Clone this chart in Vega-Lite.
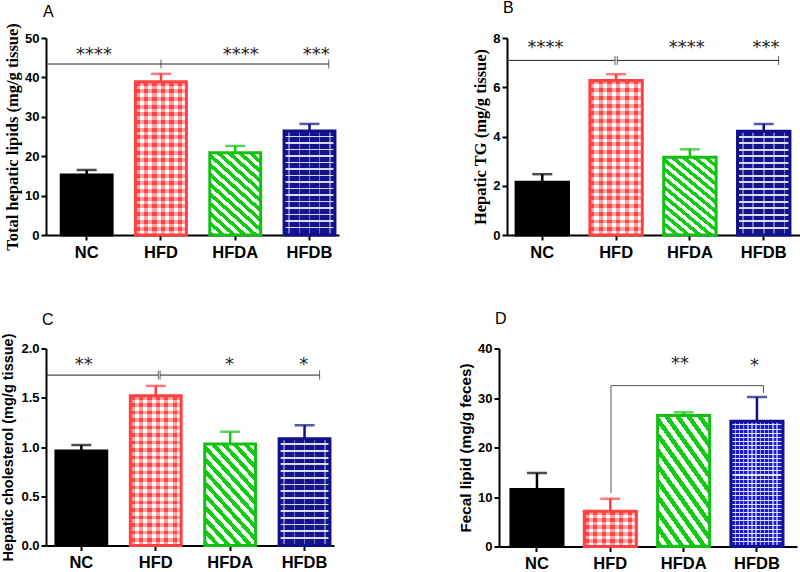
{
  "$schema": "https://vega.github.io/schema/vega-lite/v6.json",
  "padding": {"left": 0, "top": 0, "right": 0, "bottom": 0},
  "background": "white",
  "config": {
    "view": {"stroke": null},
    "axis": {"domainColor": "black", "domainWidth": 2, "tickColor": "black", "tickWidth": 2, "tickSize": 5, "labelFont": "Liberation Sans", "labelFontWeight": "bold", "labelColor": "black", "grid": false, "titleColor": "black", "titleFontWeight": "bold"},
    "axisY": {"labelFontSize": 13, "labelPadding": 2, "titlePadding": 4},
    "axisX": {"labelFontSize": 16.5, "labelPadding": 4, "labelAngle": 0},
    "title": {"font": "Liberation Sans", "fontSize": 16, "fontWeight": "normal", "anchor": "start", "frame": "group", "color": "black"}
  },
  "datasets": {
    "barsA": [{"group": "NC", "value": 15.2, "upper": 16.5}, {"group": "HFD", "value": 38.9, "upper": 40.9}, {"group": "HFDA", "value": 20.9, "upper": 22.6}, {"group": "HFDB", "value": 26.4, "upper": 28.2}],
    "segA": [{"x1": 0, "x2": 1.57, "y1": 43.4, "y2": 43.4}, {"x1": 1.57, "x2": 3.86, "y1": 43.4, "y2": 43.4}],
    "tickA": [{"x": 1.57, "y": 43.4}, {"x": 3.86, "y": 43.4}],
    "starsA": [{"x": 0.655, "y": 45.8, "label": "****"}, {"x": 2.66, "y": 45.8, "label": "****"}, {"x": 3.69, "y": 45.8, "label": "***"}],
    "barsB": [{"group": "NC", "value": 2.14, "upper": 2.47}, {"group": "HFD", "value": 6.27, "upper": 6.53}, {"group": "HFDA", "value": 3.16, "upper": 3.48}, {"group": "HFDB", "value": 4.21, "upper": 4.51}],
    "segB": [{"x1": 0, "x2": 1.46, "y1": 7.09, "y2": 7.09}, {"x1": 1.49, "x2": 3.67, "y1": 7.09, "y2": 7.09}],
    "tickB": [{"x": 1.46, "y": 7.09}, {"x": 1.49, "y": 7.09}, {"x": 3.67, "y": 7.09}],
    "starsB": [{"x": 0.52, "y": 7.59, "label": "****"}, {"x": 2.43, "y": 7.59, "label": "****"}, {"x": 3.5, "y": 7.59, "label": "***"}],
    "barsC": [{"group": "NC", "value": 0.96, "upper": 1.02}, {"group": "HFD", "value": 1.52, "upper": 1.62}, {"group": "HFDA", "value": 1.03, "upper": 1.155}, {"group": "HFDB", "value": 1.085, "upper": 1.22}],
    "segC": [{"x1": 0, "x2": 1.56, "y1": 1.73, "y2": 1.73}, {"x1": 1.585, "x2": 3.8, "y1": 1.73, "y2": 1.73}],
    "tickC": [{"x": 1.56, "y": 1.73}, {"x": 1.585, "y": 1.73}, {"x": 3.8, "y": 1.73}],
    "starsC": [{"x": 0.525, "y": 1.83, "label": "**"}, {"x": 2.55, "y": 1.83, "label": "*"}, {"x": 3.58, "y": 1.83, "label": "*"}],
    "barsD": [{"group": "NC", "value": 11.5, "upper": 14.85}, {"group": "HFD", "value": 7.1, "upper": 9.65}, {"group": "HFDA", "value": 26.45, "upper": 27.1}, {"group": "HFDB", "value": 25.3, "upper": 30.2}],
    "segD": [{"x1": 1.503, "x2": 1.503, "y1": 10.8, "y2": 32.5}, {"x1": 1.503, "x2": 3.55, "y1": 32.5, "y2": 32.5}, {"x1": 3.55, "x2": 3.55, "y1": 32.5, "y2": 31.0}],
    "starsD": [{"x": 2.43, "y": 36.8, "label": "**"}, {"x": 3.43, "y": 36.4, "label": "*"}]
  },
  "vconcat": [
    {
      "hconcat": [
        {
          "title": {"text": "A", "offset": 2.5, "dx": -3},
          "width": 293, "height": 197,
          "resolve": {"scale": {"x": "independent"}},
          "layer": [
            {"data": {"name": "barsA"},
             "encoding": {"x": {"field": "group", "type": "nominal", "sort": ["NC", "HFD", "HFDA", "HFDB"], "scale": {"paddingInner": 0.315, "paddingOuter": 0.13, "align": 0.79}, "axis": {"title": null}},
                          "y": {"field": "value", "type": "quantitative", "scale": {"domain": [0, 50], "nice": false}, "title": "Total hepatic lipids (mg/g tissue)", "axis": {"values": [0, 10, 20, 30, 40, 50], "titleFont": "Liberation Serif", "titleFontSize": 16.5}}},
             "layer": [
              {"mark": {"type": "rule", "strokeWidth": 2.5}, "encoding": {"y2": {"field": "upper"}, "color": {"field": "group", "type": "nominal", "scale": {"domain": ["NC", "HFD", "HFDA", "HFDB"], "range": ["#000000", "#ff4040", "#14c014", "#10108c"]}, "legend": null}}},
              {"mark": {"type": "tick", "thickness": 2.5, "size": 20}, "encoding": {"y": {"field": "upper", "type": "quantitative", "title": "Total hepatic lipids (mg/g tissue)", "axis": {"values": [0, 10, 20, 30, 40, 50], "titleFont": "Liberation Serif", "titleFontSize": 16.5}}, "color": {"field": "group", "type": "nominal", "legend": null}}},
              {"mark": {"type": "bar"}, "encoding": {"fill": {"field": "group", "type": "nominal", "scale": {"domain": ["NC", "HFD", "HFDA", "HFDB"], "range": ["#000000", "#ffa6a6", "#88e088", "#5a5aa8"]}, "legend": null}}},
              {"transform": [{"filter": "datum.group == 'HFD'"}], "mark": {"type": "bar", "fill": {"gradient": "linear", "x1": 0, "y1": 0, "x2": 0, "y2": 1, "stops": [
                {"offset":0,"color":"#f44"},{"offset":0.025,"color":"#f44"},{"offset":0.025,"color":"#fff"},{"offset":0.05,"color":"#fff"},
                {"offset":0.05,"color":"#f44"},{"offset":0.075,"color":"#f44"},{"offset":0.075,"color":"#fff"},{"offset":0.1,"color":"#fff"},
                {"offset":0.1,"color":"#f44"},{"offset":0.125,"color":"#f44"},{"offset":0.125,"color":"#fff"},{"offset":0.15,"color":"#fff"},
                {"offset":0.15,"color":"#f44"},{"offset":0.175,"color":"#f44"},{"offset":0.175,"color":"#fff"},{"offset":0.2,"color":"#fff"},
                {"offset":0.2,"color":"#f44"},{"offset":0.225,"color":"#f44"},{"offset":0.225,"color":"#fff"},{"offset":0.25,"color":"#fff"},
                {"offset":0.25,"color":"#f44"},{"offset":0.275,"color":"#f44"},{"offset":0.275,"color":"#fff"},{"offset":0.3,"color":"#fff"},
                {"offset":0.3,"color":"#f44"},{"offset":0.325,"color":"#f44"},{"offset":0.325,"color":"#fff"},{"offset":0.35,"color":"#fff"},
                {"offset":0.35,"color":"#f44"},{"offset":0.375,"color":"#f44"},{"offset":0.375,"color":"#fff"},{"offset":0.4,"color":"#fff"},
                {"offset":0.4,"color":"#f44"},{"offset":0.425,"color":"#f44"},{"offset":0.425,"color":"#fff"},{"offset":0.45,"color":"#fff"},
                {"offset":0.45,"color":"#f44"},{"offset":0.475,"color":"#f44"},{"offset":0.475,"color":"#fff"},{"offset":0.5,"color":"#fff"},
                {"offset":0.5,"color":"#f44"},{"offset":0.525,"color":"#f44"},{"offset":0.525,"color":"#fff"},{"offset":0.55,"color":"#fff"},
                {"offset":0.55,"color":"#f44"},{"offset":0.575,"color":"#f44"},{"offset":0.575,"color":"#fff"},{"offset":0.6,"color":"#fff"},
                {"offset":0.6,"color":"#f44"},{"offset":0.625,"color":"#f44"},{"offset":0.625,"color":"#fff"},{"offset":0.65,"color":"#fff"},
                {"offset":0.65,"color":"#f44"},{"offset":0.675,"color":"#f44"},{"offset":0.675,"color":"#fff"},{"offset":0.7,"color":"#fff"},
                {"offset":0.7,"color":"#f44"},{"offset":0.725,"color":"#f44"},{"offset":0.725,"color":"#fff"},{"offset":0.75,"color":"#fff"},
                {"offset":0.75,"color":"#f44"},{"offset":0.775,"color":"#f44"},{"offset":0.775,"color":"#fff"},{"offset":0.8,"color":"#fff"},
                {"offset":0.8,"color":"#f44"},{"offset":0.825,"color":"#f44"},{"offset":0.825,"color":"#fff"},{"offset":0.85,"color":"#fff"},
                {"offset":0.85,"color":"#f44"},{"offset":0.875,"color":"#f44"},{"offset":0.875,"color":"#fff"},{"offset":0.9,"color":"#fff"},
                {"offset":0.9,"color":"#f44"},{"offset":0.925,"color":"#f44"},{"offset":0.925,"color":"#fff"},{"offset":0.95,"color":"#fff"},
                {"offset":0.95,"color":"#f44"},{"offset":0.975,"color":"#f44"},{"offset":0.975,"color":"#fff"},{"offset":1,"color":"#fff"}]}}},
              {"transform": [{"filter": "datum.group == 'HFD'"}], "mark": {"type": "bar", "fill": {"gradient": "linear", "x1": 0, "y1": 0, "x2": 1, "y2": 0, "stops": [
                {"offset":0,"color":"rgba(255,68,68,0.5)"},{"offset":0.0833,"color":"rgba(255,68,68,0.5)"},{"offset":0.0833,"color":"rgba(255,255,255,0.5)"},{"offset":0.1667,"color":"rgba(255,255,255,0.5)"},
                {"offset":0.1667,"color":"rgba(255,68,68,0.5)"},{"offset":0.25,"color":"rgba(255,68,68,0.5)"},{"offset":0.25,"color":"rgba(255,255,255,0.5)"},{"offset":0.3333,"color":"rgba(255,255,255,0.5)"},
                {"offset":0.3333,"color":"rgba(255,68,68,0.5)"},{"offset":0.4167,"color":"rgba(255,68,68,0.5)"},{"offset":0.4167,"color":"rgba(255,255,255,0.5)"},{"offset":0.5,"color":"rgba(255,255,255,0.5)"},
                {"offset":0.5,"color":"rgba(255,68,68,0.5)"},{"offset":0.5833,"color":"rgba(255,68,68,0.5)"},{"offset":0.5833,"color":"rgba(255,255,255,0.5)"},{"offset":0.6667,"color":"rgba(255,255,255,0.5)"},
                {"offset":0.6667,"color":"rgba(255,68,68,0.5)"},{"offset":0.75,"color":"rgba(255,68,68,0.5)"},{"offset":0.75,"color":"rgba(255,255,255,0.5)"},{"offset":0.8333,"color":"rgba(255,255,255,0.5)"},
                {"offset":0.8333,"color":"rgba(255,68,68,0.5)"},{"offset":0.9167,"color":"rgba(255,68,68,0.5)"},{"offset":0.9167,"color":"rgba(255,255,255,0.5)"},{"offset":1,"color":"rgba(255,255,255,0.5)"}]}}},
              {"transform": [{"filter": "datum.group == 'HFDA'"}], "mark": {"type": "bar", "fill": {"gradient": "linear", "x1": 0, "y1": 1, "x2": 1, "y2": -0.8, "stops": [
                {"offset":0,"color":"#1c1"},{"offset":0.025,"color":"#1c1"},{"offset":0.025,"color":"#fff"},{"offset":0.05,"color":"#fff"},
                {"offset":0.05,"color":"#1c1"},{"offset":0.075,"color":"#1c1"},{"offset":0.075,"color":"#fff"},{"offset":0.1,"color":"#fff"},
                {"offset":0.1,"color":"#1c1"},{"offset":0.125,"color":"#1c1"},{"offset":0.125,"color":"#fff"},{"offset":0.15,"color":"#fff"},
                {"offset":0.15,"color":"#1c1"},{"offset":0.175,"color":"#1c1"},{"offset":0.175,"color":"#fff"},{"offset":0.2,"color":"#fff"},
                {"offset":0.2,"color":"#1c1"},{"offset":0.225,"color":"#1c1"},{"offset":0.225,"color":"#fff"},{"offset":0.25,"color":"#fff"},
                {"offset":0.25,"color":"#1c1"},{"offset":0.275,"color":"#1c1"},{"offset":0.275,"color":"#fff"},{"offset":0.3,"color":"#fff"},
                {"offset":0.3,"color":"#1c1"},{"offset":0.325,"color":"#1c1"},{"offset":0.325,"color":"#fff"},{"offset":0.35,"color":"#fff"},
                {"offset":0.35,"color":"#1c1"},{"offset":0.375,"color":"#1c1"},{"offset":0.375,"color":"#fff"},{"offset":0.4,"color":"#fff"},
                {"offset":0.4,"color":"#1c1"},{"offset":0.425,"color":"#1c1"},{"offset":0.425,"color":"#fff"},{"offset":0.45,"color":"#fff"},
                {"offset":0.45,"color":"#1c1"},{"offset":0.475,"color":"#1c1"},{"offset":0.475,"color":"#fff"},{"offset":0.5,"color":"#fff"},
                {"offset":0.5,"color":"#1c1"},{"offset":0.525,"color":"#1c1"},{"offset":0.525,"color":"#fff"},{"offset":0.55,"color":"#fff"},
                {"offset":0.55,"color":"#1c1"},{"offset":0.575,"color":"#1c1"},{"offset":0.575,"color":"#fff"},{"offset":0.6,"color":"#fff"},
                {"offset":0.6,"color":"#1c1"},{"offset":0.625,"color":"#1c1"},{"offset":0.625,"color":"#fff"},{"offset":0.65,"color":"#fff"},
                {"offset":0.65,"color":"#1c1"},{"offset":0.675,"color":"#1c1"},{"offset":0.675,"color":"#fff"},{"offset":0.7,"color":"#fff"},
                {"offset":0.7,"color":"#1c1"},{"offset":1,"color":"#1c1"}]}}},
              {"transform": [{"filter": "datum.group == 'HFDB'"}], "mark": {"type": "bar", "fill": {"gradient": "linear", "x1": 0, "y1": 0, "x2": 0, "y2": 1, "stops": [
                {"offset":0,"color":"#14148c"},{"offset":0.045,"color":"#14148c"},{"offset":0.045,"color":"#dcdcf0"},{"offset":0.0625,"color":"#dcdcf0"},
                {"offset":0.0625,"color":"#14148c"},{"offset":0.1075,"color":"#14148c"},{"offset":0.1075,"color":"#dcdcf0"},{"offset":0.125,"color":"#dcdcf0"},
                {"offset":0.125,"color":"#14148c"},{"offset":0.17,"color":"#14148c"},{"offset":0.17,"color":"#dcdcf0"},{"offset":0.1875,"color":"#dcdcf0"},
                {"offset":0.1875,"color":"#14148c"},{"offset":0.2325,"color":"#14148c"},{"offset":0.2325,"color":"#dcdcf0"},{"offset":0.25,"color":"#dcdcf0"},
                {"offset":0.25,"color":"#14148c"},{"offset":0.295,"color":"#14148c"},{"offset":0.295,"color":"#dcdcf0"},{"offset":0.3125,"color":"#dcdcf0"},
                {"offset":0.3125,"color":"#14148c"},{"offset":0.3575,"color":"#14148c"},{"offset":0.3575,"color":"#dcdcf0"},{"offset":0.375,"color":"#dcdcf0"},
                {"offset":0.375,"color":"#14148c"},{"offset":0.42,"color":"#14148c"},{"offset":0.42,"color":"#dcdcf0"},{"offset":0.4375,"color":"#dcdcf0"},
                {"offset":0.4375,"color":"#14148c"},{"offset":0.4825,"color":"#14148c"},{"offset":0.4825,"color":"#dcdcf0"},{"offset":0.5,"color":"#dcdcf0"},
                {"offset":0.5,"color":"#14148c"},{"offset":0.545,"color":"#14148c"},{"offset":0.545,"color":"#dcdcf0"},{"offset":0.5625,"color":"#dcdcf0"},
                {"offset":0.5625,"color":"#14148c"},{"offset":0.6075,"color":"#14148c"},{"offset":0.6075,"color":"#dcdcf0"},{"offset":0.625,"color":"#dcdcf0"},
                {"offset":0.625,"color":"#14148c"},{"offset":0.67,"color":"#14148c"},{"offset":0.67,"color":"#dcdcf0"},{"offset":0.6875,"color":"#dcdcf0"},
                {"offset":0.6875,"color":"#14148c"},{"offset":0.7325,"color":"#14148c"},{"offset":0.7325,"color":"#dcdcf0"},{"offset":0.75,"color":"#dcdcf0"},
                {"offset":0.75,"color":"#14148c"},{"offset":0.795,"color":"#14148c"},{"offset":0.795,"color":"#dcdcf0"},{"offset":0.8125,"color":"#dcdcf0"},
                {"offset":0.8125,"color":"#14148c"},{"offset":0.8575,"color":"#14148c"},{"offset":0.8575,"color":"#dcdcf0"},{"offset":0.875,"color":"#dcdcf0"},
                {"offset":0.875,"color":"#14148c"},{"offset":0.92,"color":"#14148c"},{"offset":0.92,"color":"#dcdcf0"},{"offset":0.9375,"color":"#dcdcf0"},
                {"offset":0.9375,"color":"#14148c"},{"offset":1,"color":"#14148c"}]}}},
              {"transform": [{"filter": "datum.group == 'HFDB'"}], "mark": {"type": "bar", "fill": {"gradient": "linear", "x1": 0, "y1": 0, "x2": 1, "y2": 0, "stops": [
                {"offset":0,"color":"rgba(255,255,255,0)"},{"offset":0.085,"color":"rgba(255,255,255,0)"},{"offset":0.085,"color":"rgba(230,230,250,0.45)"},{"offset":0.115,"color":"rgba(230,230,250,0.45)"},{"offset":0.115,"color":"rgba(255,255,255,0)"},
                {"offset":0.285,"color":"rgba(255,255,255,0)"},{"offset":0.285,"color":"rgba(230,230,250,0.45)"},{"offset":0.315,"color":"rgba(230,230,250,0.45)"},{"offset":0.315,"color":"rgba(255,255,255,0)"},
                {"offset":0.485,"color":"rgba(255,255,255,0)"},{"offset":0.485,"color":"rgba(230,230,250,0.45)"},{"offset":0.515,"color":"rgba(230,230,250,0.45)"},{"offset":0.515,"color":"rgba(255,255,255,0)"},
                {"offset":0.685,"color":"rgba(255,255,255,0)"},{"offset":0.685,"color":"rgba(230,230,250,0.45)"},{"offset":0.715,"color":"rgba(230,230,250,0.45)"},{"offset":0.715,"color":"rgba(255,255,255,0)"},
                {"offset":0.885,"color":"rgba(255,255,255,0)"},{"offset":0.885,"color":"rgba(230,230,250,0.45)"},{"offset":0.915,"color":"rgba(230,230,250,0.45)"},{"offset":0.915,"color":"rgba(255,255,255,0)"},{"offset":1,"color":"rgba(255,255,255,0)"}]}}},
              {"mark": {"type": "bar", "fillOpacity": 0, "strokeWidth": 3}, "encoding": {"stroke": {"field": "group", "type": "nominal", "scale": {"domain": ["NC", "HFD", "HFDA", "HFDB"], "range": ["#000000", "#ff4040", "#14c014", "#10108c"]}, "legend": null}}}
             ]},
            {"data": {"name": "segA"}, "mark": {"type": "rule", "color": "#222222", "strokeWidth": 1},
             "encoding": {"x": {"field": "x1", "type": "quantitative", "scale": {"domain": [0, 4], "nice": false, "zero": false}, "axis": null}, "x2": {"field": "x2"},
                          "y": {"field": "y1", "type": "quantitative", "title": "Total hepatic lipids (mg/g tissue)", "axis": {"values": [0, 10, 20, 30, 40, 50], "titleFont": "Liberation Serif", "titleFontSize": 16.5}}, "y2": {"field": "y2"}}},
            {"data": {"name": "tickA"}, "mark": {"type": "tick", "orient": "vertical", "size": 9, "thickness": 1, "color": "#222222"},
             "encoding": {"x": {"field": "x", "type": "quantitative", "scale": {"domain": [0, 4], "nice": false, "zero": false}, "axis": null},
                          "y": {"field": "y", "type": "quantitative", "title": "Total hepatic lipids (mg/g tissue)", "axis": {"values": [0, 10, 20, 30, 40, 50], "titleFont": "Liberation Serif", "titleFontSize": 16.5}}}},
            {"data": {"name": "starsA"}, "mark": {"type": "text", "font": "DejaVu Sans", "fontSize": 18, "baseline": "middle", "color": "#222222"},
             "encoding": {"x": {"field": "x", "type": "quantitative", "scale": {"domain": [0, 4], "nice": false, "zero": false}, "axis": null},
                          "y": {"field": "y", "type": "quantitative", "title": "Total hepatic lipids (mg/g tissue)", "axis": {"values": [0, 10, 20, 30, 40, 50], "titleFont": "Liberation Serif", "titleFontSize": 16.5}}, "text": {"field": "label"}}}
          ]
        },
        {
          "title": {"text": "B", "offset": 16, "dx": -4},
          "width": 296, "height": 197,
          "resolve": {"scale": {"x": "independent"}},
          "layer": [
            {"data": {"name": "barsB"},
             "encoding": {"x": {"field": "group", "type": "nominal", "sort": ["NC", "HFD", "HFDA", "HFDB"], "scale": {"paddingInner": 0.29, "paddingOuter": 0.15, "align": 0.41}, "axis": {"title": null}},
                          "y": {"field": "value", "type": "quantitative", "scale": {"domain": [0, 8], "nice": false}, "title": "Hepatic TG (mg/g tissue)", "axis": {"values": [0, 2, 4, 6, 8], "titleFont": "Liberation Serif", "titleFontSize": 16.5}}},
             "layer": [
              {"mark": {"type": "rule", "strokeWidth": 2.5}, "encoding": {"y2": {"field": "upper"}, "color": {"field": "group", "type": "nominal", "scale": {"domain": ["NC", "HFD", "HFDA", "HFDB"], "range": ["#000000", "#ff4040", "#14c014", "#10108c"]}, "legend": null}}},
              {"mark": {"type": "tick", "thickness": 2.5, "size": 20}, "encoding": {"y": {"field": "upper", "type": "quantitative", "title": "Hepatic TG (mg/g tissue)", "axis": {"values": [0, 2, 4, 6, 8], "titleFont": "Liberation Serif", "titleFontSize": 16.5}}, "color": {"field": "group", "type": "nominal", "legend": null}}},
              {"mark": {"type": "bar"}, "encoding": {"fill": {"field": "group", "type": "nominal", "scale": {"domain": ["NC", "HFD", "HFDA", "HFDB"], "range": ["#000000", "#ffa6a6", "#88e088", "#5a5aa8"]}, "legend": null}}},
              {"transform": [{"filter": "datum.group == 'HFD'"}], "mark": {"type": "bar", "fill": {"gradient": "linear", "x1": 0, "y1": 0, "x2": 0, "y2": 1, "stops": [
                {"offset":0,"color":"#f44"},{"offset":0.025,"color":"#f44"},{"offset":0.025,"color":"#fff"},{"offset":0.05,"color":"#fff"},
                {"offset":0.05,"color":"#f44"},{"offset":0.075,"color":"#f44"},{"offset":0.075,"color":"#fff"},{"offset":0.1,"color":"#fff"},
                {"offset":0.1,"color":"#f44"},{"offset":0.125,"color":"#f44"},{"offset":0.125,"color":"#fff"},{"offset":0.15,"color":"#fff"},
                {"offset":0.15,"color":"#f44"},{"offset":0.175,"color":"#f44"},{"offset":0.175,"color":"#fff"},{"offset":0.2,"color":"#fff"},
                {"offset":0.2,"color":"#f44"},{"offset":0.225,"color":"#f44"},{"offset":0.225,"color":"#fff"},{"offset":0.25,"color":"#fff"},
                {"offset":0.25,"color":"#f44"},{"offset":0.275,"color":"#f44"},{"offset":0.275,"color":"#fff"},{"offset":0.3,"color":"#fff"},
                {"offset":0.3,"color":"#f44"},{"offset":0.325,"color":"#f44"},{"offset":0.325,"color":"#fff"},{"offset":0.35,"color":"#fff"},
                {"offset":0.35,"color":"#f44"},{"offset":0.375,"color":"#f44"},{"offset":0.375,"color":"#fff"},{"offset":0.4,"color":"#fff"},
                {"offset":0.4,"color":"#f44"},{"offset":0.425,"color":"#f44"},{"offset":0.425,"color":"#fff"},{"offset":0.45,"color":"#fff"},
                {"offset":0.45,"color":"#f44"},{"offset":0.475,"color":"#f44"},{"offset":0.475,"color":"#fff"},{"offset":0.5,"color":"#fff"},
                {"offset":0.5,"color":"#f44"},{"offset":0.525,"color":"#f44"},{"offset":0.525,"color":"#fff"},{"offset":0.55,"color":"#fff"},
                {"offset":0.55,"color":"#f44"},{"offset":0.575,"color":"#f44"},{"offset":0.575,"color":"#fff"},{"offset":0.6,"color":"#fff"},
                {"offset":0.6,"color":"#f44"},{"offset":0.625,"color":"#f44"},{"offset":0.625,"color":"#fff"},{"offset":0.65,"color":"#fff"},
                {"offset":0.65,"color":"#f44"},{"offset":0.675,"color":"#f44"},{"offset":0.675,"color":"#fff"},{"offset":0.7,"color":"#fff"},
                {"offset":0.7,"color":"#f44"},{"offset":0.725,"color":"#f44"},{"offset":0.725,"color":"#fff"},{"offset":0.75,"color":"#fff"},
                {"offset":0.75,"color":"#f44"},{"offset":0.775,"color":"#f44"},{"offset":0.775,"color":"#fff"},{"offset":0.8,"color":"#fff"},
                {"offset":0.8,"color":"#f44"},{"offset":0.825,"color":"#f44"},{"offset":0.825,"color":"#fff"},{"offset":0.85,"color":"#fff"},
                {"offset":0.85,"color":"#f44"},{"offset":0.875,"color":"#f44"},{"offset":0.875,"color":"#fff"},{"offset":0.9,"color":"#fff"},
                {"offset":0.9,"color":"#f44"},{"offset":0.925,"color":"#f44"},{"offset":0.925,"color":"#fff"},{"offset":0.95,"color":"#fff"},
                {"offset":0.95,"color":"#f44"},{"offset":0.975,"color":"#f44"},{"offset":0.975,"color":"#fff"},{"offset":1,"color":"#fff"}]}}},
              {"transform": [{"filter": "datum.group == 'HFD'"}], "mark": {"type": "bar", "fill": {"gradient": "linear", "x1": 0, "y1": 0, "x2": 1, "y2": 0, "stops": [
                {"offset":0,"color":"rgba(255,68,68,0.5)"},{"offset":0.0833,"color":"rgba(255,68,68,0.5)"},{"offset":0.0833,"color":"rgba(255,255,255,0.5)"},{"offset":0.1667,"color":"rgba(255,255,255,0.5)"},
                {"offset":0.1667,"color":"rgba(255,68,68,0.5)"},{"offset":0.25,"color":"rgba(255,68,68,0.5)"},{"offset":0.25,"color":"rgba(255,255,255,0.5)"},{"offset":0.3333,"color":"rgba(255,255,255,0.5)"},
                {"offset":0.3333,"color":"rgba(255,68,68,0.5)"},{"offset":0.4167,"color":"rgba(255,68,68,0.5)"},{"offset":0.4167,"color":"rgba(255,255,255,0.5)"},{"offset":0.5,"color":"rgba(255,255,255,0.5)"},
                {"offset":0.5,"color":"rgba(255,68,68,0.5)"},{"offset":0.5833,"color":"rgba(255,68,68,0.5)"},{"offset":0.5833,"color":"rgba(255,255,255,0.5)"},{"offset":0.6667,"color":"rgba(255,255,255,0.5)"},
                {"offset":0.6667,"color":"rgba(255,68,68,0.5)"},{"offset":0.75,"color":"rgba(255,68,68,0.5)"},{"offset":0.75,"color":"rgba(255,255,255,0.5)"},{"offset":0.8333,"color":"rgba(255,255,255,0.5)"},
                {"offset":0.8333,"color":"rgba(255,68,68,0.5)"},{"offset":0.9167,"color":"rgba(255,68,68,0.5)"},{"offset":0.9167,"color":"rgba(255,255,255,0.5)"},{"offset":1,"color":"rgba(255,255,255,0.5)"}]}}},
              {"transform": [{"filter": "datum.group == 'HFDA'"}], "mark": {"type": "bar", "fill": {"gradient": "linear", "x1": 0, "y1": 1, "x2": 1, "y2": -0.8, "stops": [
                {"offset":0,"color":"#1c1"},{"offset":0.025,"color":"#1c1"},{"offset":0.025,"color":"#fff"},{"offset":0.05,"color":"#fff"},
                {"offset":0.05,"color":"#1c1"},{"offset":0.075,"color":"#1c1"},{"offset":0.075,"color":"#fff"},{"offset":0.1,"color":"#fff"},
                {"offset":0.1,"color":"#1c1"},{"offset":0.125,"color":"#1c1"},{"offset":0.125,"color":"#fff"},{"offset":0.15,"color":"#fff"},
                {"offset":0.15,"color":"#1c1"},{"offset":0.175,"color":"#1c1"},{"offset":0.175,"color":"#fff"},{"offset":0.2,"color":"#fff"},
                {"offset":0.2,"color":"#1c1"},{"offset":0.225,"color":"#1c1"},{"offset":0.225,"color":"#fff"},{"offset":0.25,"color":"#fff"},
                {"offset":0.25,"color":"#1c1"},{"offset":0.275,"color":"#1c1"},{"offset":0.275,"color":"#fff"},{"offset":0.3,"color":"#fff"},
                {"offset":0.3,"color":"#1c1"},{"offset":0.325,"color":"#1c1"},{"offset":0.325,"color":"#fff"},{"offset":0.35,"color":"#fff"},
                {"offset":0.35,"color":"#1c1"},{"offset":0.375,"color":"#1c1"},{"offset":0.375,"color":"#fff"},{"offset":0.4,"color":"#fff"},
                {"offset":0.4,"color":"#1c1"},{"offset":0.425,"color":"#1c1"},{"offset":0.425,"color":"#fff"},{"offset":0.45,"color":"#fff"},
                {"offset":0.45,"color":"#1c1"},{"offset":0.475,"color":"#1c1"},{"offset":0.475,"color":"#fff"},{"offset":0.5,"color":"#fff"},
                {"offset":0.5,"color":"#1c1"},{"offset":0.525,"color":"#1c1"},{"offset":0.525,"color":"#fff"},{"offset":0.55,"color":"#fff"},
                {"offset":0.55,"color":"#1c1"},{"offset":0.575,"color":"#1c1"},{"offset":0.575,"color":"#fff"},{"offset":0.6,"color":"#fff"},
                {"offset":0.6,"color":"#1c1"},{"offset":0.625,"color":"#1c1"},{"offset":0.625,"color":"#fff"},{"offset":0.65,"color":"#fff"},
                {"offset":0.65,"color":"#1c1"},{"offset":0.675,"color":"#1c1"},{"offset":0.675,"color":"#fff"},{"offset":0.7,"color":"#fff"},
                {"offset":0.7,"color":"#1c1"},{"offset":1,"color":"#1c1"}]}}},
              {"transform": [{"filter": "datum.group == 'HFDB'"}], "mark": {"type": "bar", "fill": {"gradient": "linear", "x1": 0, "y1": 0, "x2": 0, "y2": 1, "stops": [
                {"offset":0,"color":"#14148c"},{"offset":0.045,"color":"#14148c"},{"offset":0.045,"color":"#dcdcf0"},{"offset":0.0625,"color":"#dcdcf0"},
                {"offset":0.0625,"color":"#14148c"},{"offset":0.1075,"color":"#14148c"},{"offset":0.1075,"color":"#dcdcf0"},{"offset":0.125,"color":"#dcdcf0"},
                {"offset":0.125,"color":"#14148c"},{"offset":0.17,"color":"#14148c"},{"offset":0.17,"color":"#dcdcf0"},{"offset":0.1875,"color":"#dcdcf0"},
                {"offset":0.1875,"color":"#14148c"},{"offset":0.2325,"color":"#14148c"},{"offset":0.2325,"color":"#dcdcf0"},{"offset":0.25,"color":"#dcdcf0"},
                {"offset":0.25,"color":"#14148c"},{"offset":0.295,"color":"#14148c"},{"offset":0.295,"color":"#dcdcf0"},{"offset":0.3125,"color":"#dcdcf0"},
                {"offset":0.3125,"color":"#14148c"},{"offset":0.3575,"color":"#14148c"},{"offset":0.3575,"color":"#dcdcf0"},{"offset":0.375,"color":"#dcdcf0"},
                {"offset":0.375,"color":"#14148c"},{"offset":0.42,"color":"#14148c"},{"offset":0.42,"color":"#dcdcf0"},{"offset":0.4375,"color":"#dcdcf0"},
                {"offset":0.4375,"color":"#14148c"},{"offset":0.4825,"color":"#14148c"},{"offset":0.4825,"color":"#dcdcf0"},{"offset":0.5,"color":"#dcdcf0"},
                {"offset":0.5,"color":"#14148c"},{"offset":0.545,"color":"#14148c"},{"offset":0.545,"color":"#dcdcf0"},{"offset":0.5625,"color":"#dcdcf0"},
                {"offset":0.5625,"color":"#14148c"},{"offset":0.6075,"color":"#14148c"},{"offset":0.6075,"color":"#dcdcf0"},{"offset":0.625,"color":"#dcdcf0"},
                {"offset":0.625,"color":"#14148c"},{"offset":0.67,"color":"#14148c"},{"offset":0.67,"color":"#dcdcf0"},{"offset":0.6875,"color":"#dcdcf0"},
                {"offset":0.6875,"color":"#14148c"},{"offset":0.7325,"color":"#14148c"},{"offset":0.7325,"color":"#dcdcf0"},{"offset":0.75,"color":"#dcdcf0"},
                {"offset":0.75,"color":"#14148c"},{"offset":0.795,"color":"#14148c"},{"offset":0.795,"color":"#dcdcf0"},{"offset":0.8125,"color":"#dcdcf0"},
                {"offset":0.8125,"color":"#14148c"},{"offset":0.8575,"color":"#14148c"},{"offset":0.8575,"color":"#dcdcf0"},{"offset":0.875,"color":"#dcdcf0"},
                {"offset":0.875,"color":"#14148c"},{"offset":0.92,"color":"#14148c"},{"offset":0.92,"color":"#dcdcf0"},{"offset":0.9375,"color":"#dcdcf0"},
                {"offset":0.9375,"color":"#14148c"},{"offset":1,"color":"#14148c"}]}}},
              {"transform": [{"filter": "datum.group == 'HFDB'"}], "mark": {"type": "bar", "fill": {"gradient": "linear", "x1": 0, "y1": 0, "x2": 1, "y2": 0, "stops": [
                {"offset":0,"color":"rgba(255,255,255,0)"},{"offset":0.085,"color":"rgba(255,255,255,0)"},{"offset":0.085,"color":"rgba(230,230,250,0.45)"},{"offset":0.115,"color":"rgba(230,230,250,0.45)"},{"offset":0.115,"color":"rgba(255,255,255,0)"},
                {"offset":0.285,"color":"rgba(255,255,255,0)"},{"offset":0.285,"color":"rgba(230,230,250,0.45)"},{"offset":0.315,"color":"rgba(230,230,250,0.45)"},{"offset":0.315,"color":"rgba(255,255,255,0)"},
                {"offset":0.485,"color":"rgba(255,255,255,0)"},{"offset":0.485,"color":"rgba(230,230,250,0.45)"},{"offset":0.515,"color":"rgba(230,230,250,0.45)"},{"offset":0.515,"color":"rgba(255,255,255,0)"},
                {"offset":0.685,"color":"rgba(255,255,255,0)"},{"offset":0.685,"color":"rgba(230,230,250,0.45)"},{"offset":0.715,"color":"rgba(230,230,250,0.45)"},{"offset":0.715,"color":"rgba(255,255,255,0)"},
                {"offset":0.885,"color":"rgba(255,255,255,0)"},{"offset":0.885,"color":"rgba(230,230,250,0.45)"},{"offset":0.915,"color":"rgba(230,230,250,0.45)"},{"offset":0.915,"color":"rgba(255,255,255,0)"},{"offset":1,"color":"rgba(255,255,255,0)"}]}}},
              {"mark": {"type": "bar", "fillOpacity": 0, "strokeWidth": 3}, "encoding": {"stroke": {"field": "group", "type": "nominal", "scale": {"domain": ["NC", "HFD", "HFDA", "HFDB"], "range": ["#000000", "#ff4040", "#14c014", "#10108c"]}, "legend": null}}}
             ]},
            {"data": {"name": "segB"}, "mark": {"type": "rule", "color": "#222222", "strokeWidth": 1},
             "encoding": {"x": {"field": "x1", "type": "quantitative", "scale": {"domain": [0, 4], "nice": false, "zero": false}, "axis": null}, "x2": {"field": "x2"},
                          "y": {"field": "y1", "type": "quantitative", "title": "Hepatic TG (mg/g tissue)", "axis": {"values": [0, 2, 4, 6, 8], "titleFont": "Liberation Serif", "titleFontSize": 16.5}}, "y2": {"field": "y2"}}},
            {"data": {"name": "tickB"}, "mark": {"type": "tick", "orient": "vertical", "size": 9, "thickness": 1, "color": "#222222"},
             "encoding": {"x": {"field": "x", "type": "quantitative", "scale": {"domain": [0, 4], "nice": false, "zero": false}, "axis": null},
                          "y": {"field": "y", "type": "quantitative", "title": "Hepatic TG (mg/g tissue)", "axis": {"values": [0, 2, 4, 6, 8], "titleFont": "Liberation Serif", "titleFontSize": 16.5}}}},
            {"data": {"name": "starsB"}, "mark": {"type": "text", "font": "DejaVu Sans", "fontSize": 18, "baseline": "middle", "color": "#222222"},
             "encoding": {"x": {"field": "x", "type": "quantitative", "scale": {"domain": [0, 4], "nice": false, "zero": false}, "axis": null},
                          "y": {"field": "y", "type": "quantitative", "title": "Hepatic TG (mg/g tissue)", "axis": {"values": [0, 2, 4, 6, 8], "titleFont": "Liberation Serif", "titleFontSize": 16.5}}, "text": {"field": "label"}}}
          ]
        }
      ],
      "spacing": 133
    },
    {
      "hconcat": [
        {
          "title": {"text": "C", "offset": 4.5, "dx": -4},
          "width": 288, "height": 197,
          "resolve": {"scale": {"x": "independent"}},
          "layer": [
            {"data": {"name": "barsC"},
             "encoding": {"x": {"field": "group", "type": "nominal", "sort": ["NC", "HFD", "HFDA", "HFDB"], "scale": {"paddingInner": 0.317, "paddingOuter": 0.094, "align": 0.71}, "axis": {"title": null}},
                          "y": {"field": "value", "type": "quantitative", "scale": {"domain": [0, 2], "nice": false}, "title": "Hepatic cholesterol (mg/g tissue)", "axis": {"values": [0, 0.5, 1, 1.5, 2], "format": ".1f", "titleFont": "Liberation Sans", "titleFontSize": 14.5, "titlePadding": 5.5}}},
             "layer": [
              {"mark": {"type": "rule", "strokeWidth": 2.5}, "encoding": {"y2": {"field": "upper"}, "color": {"field": "group", "type": "nominal", "scale": {"domain": ["NC", "HFD", "HFDA", "HFDB"], "range": ["#000000", "#ff4040", "#14c014", "#10108c"]}, "legend": null}}},
              {"mark": {"type": "tick", "thickness": 2.5, "size": 20}, "encoding": {"y": {"field": "upper", "type": "quantitative", "title": "Hepatic cholesterol (mg/g tissue)", "axis": {"values": [0, 0.5, 1, 1.5, 2], "format": ".1f", "titleFont": "Liberation Sans", "titleFontSize": 14.5, "titlePadding": 5.5}}, "color": {"field": "group", "type": "nominal", "legend": null}}},
              {"mark": {"type": "bar"}, "encoding": {"fill": {"field": "group", "type": "nominal", "scale": {"domain": ["NC", "HFD", "HFDA", "HFDB"], "range": ["#000000", "#ffa6a6", "#88e088", "#5a5aa8"]}, "legend": null}}},
              {"transform": [{"filter": "datum.group == 'HFD'"}], "mark": {"type": "bar", "fill": {"gradient": "linear", "x1": 0, "y1": 0, "x2": 0, "y2": 1, "stops": [
                {"offset":0,"color":"#f44"},{"offset":0.025,"color":"#f44"},{"offset":0.025,"color":"#fff"},{"offset":0.05,"color":"#fff"},
                {"offset":0.05,"color":"#f44"},{"offset":0.075,"color":"#f44"},{"offset":0.075,"color":"#fff"},{"offset":0.1,"color":"#fff"},
                {"offset":0.1,"color":"#f44"},{"offset":0.125,"color":"#f44"},{"offset":0.125,"color":"#fff"},{"offset":0.15,"color":"#fff"},
                {"offset":0.15,"color":"#f44"},{"offset":0.175,"color":"#f44"},{"offset":0.175,"color":"#fff"},{"offset":0.2,"color":"#fff"},
                {"offset":0.2,"color":"#f44"},{"offset":0.225,"color":"#f44"},{"offset":0.225,"color":"#fff"},{"offset":0.25,"color":"#fff"},
                {"offset":0.25,"color":"#f44"},{"offset":0.275,"color":"#f44"},{"offset":0.275,"color":"#fff"},{"offset":0.3,"color":"#fff"},
                {"offset":0.3,"color":"#f44"},{"offset":0.325,"color":"#f44"},{"offset":0.325,"color":"#fff"},{"offset":0.35,"color":"#fff"},
                {"offset":0.35,"color":"#f44"},{"offset":0.375,"color":"#f44"},{"offset":0.375,"color":"#fff"},{"offset":0.4,"color":"#fff"},
                {"offset":0.4,"color":"#f44"},{"offset":0.425,"color":"#f44"},{"offset":0.425,"color":"#fff"},{"offset":0.45,"color":"#fff"},
                {"offset":0.45,"color":"#f44"},{"offset":0.475,"color":"#f44"},{"offset":0.475,"color":"#fff"},{"offset":0.5,"color":"#fff"},
                {"offset":0.5,"color":"#f44"},{"offset":0.525,"color":"#f44"},{"offset":0.525,"color":"#fff"},{"offset":0.55,"color":"#fff"},
                {"offset":0.55,"color":"#f44"},{"offset":0.575,"color":"#f44"},{"offset":0.575,"color":"#fff"},{"offset":0.6,"color":"#fff"},
                {"offset":0.6,"color":"#f44"},{"offset":0.625,"color":"#f44"},{"offset":0.625,"color":"#fff"},{"offset":0.65,"color":"#fff"},
                {"offset":0.65,"color":"#f44"},{"offset":0.675,"color":"#f44"},{"offset":0.675,"color":"#fff"},{"offset":0.7,"color":"#fff"},
                {"offset":0.7,"color":"#f44"},{"offset":0.725,"color":"#f44"},{"offset":0.725,"color":"#fff"},{"offset":0.75,"color":"#fff"},
                {"offset":0.75,"color":"#f44"},{"offset":0.775,"color":"#f44"},{"offset":0.775,"color":"#fff"},{"offset":0.8,"color":"#fff"},
                {"offset":0.8,"color":"#f44"},{"offset":0.825,"color":"#f44"},{"offset":0.825,"color":"#fff"},{"offset":0.85,"color":"#fff"},
                {"offset":0.85,"color":"#f44"},{"offset":0.875,"color":"#f44"},{"offset":0.875,"color":"#fff"},{"offset":0.9,"color":"#fff"},
                {"offset":0.9,"color":"#f44"},{"offset":0.925,"color":"#f44"},{"offset":0.925,"color":"#fff"},{"offset":0.95,"color":"#fff"},
                {"offset":0.95,"color":"#f44"},{"offset":0.975,"color":"#f44"},{"offset":0.975,"color":"#fff"},{"offset":1,"color":"#fff"}]}}},
              {"transform": [{"filter": "datum.group == 'HFD'"}], "mark": {"type": "bar", "fill": {"gradient": "linear", "x1": 0, "y1": 0, "x2": 1, "y2": 0, "stops": [
                {"offset":0,"color":"rgba(255,68,68,0.5)"},{"offset":0.0833,"color":"rgba(255,68,68,0.5)"},{"offset":0.0833,"color":"rgba(255,255,255,0.5)"},{"offset":0.1667,"color":"rgba(255,255,255,0.5)"},
                {"offset":0.1667,"color":"rgba(255,68,68,0.5)"},{"offset":0.25,"color":"rgba(255,68,68,0.5)"},{"offset":0.25,"color":"rgba(255,255,255,0.5)"},{"offset":0.3333,"color":"rgba(255,255,255,0.5)"},
                {"offset":0.3333,"color":"rgba(255,68,68,0.5)"},{"offset":0.4167,"color":"rgba(255,68,68,0.5)"},{"offset":0.4167,"color":"rgba(255,255,255,0.5)"},{"offset":0.5,"color":"rgba(255,255,255,0.5)"},
                {"offset":0.5,"color":"rgba(255,68,68,0.5)"},{"offset":0.5833,"color":"rgba(255,68,68,0.5)"},{"offset":0.5833,"color":"rgba(255,255,255,0.5)"},{"offset":0.6667,"color":"rgba(255,255,255,0.5)"},
                {"offset":0.6667,"color":"rgba(255,68,68,0.5)"},{"offset":0.75,"color":"rgba(255,68,68,0.5)"},{"offset":0.75,"color":"rgba(255,255,255,0.5)"},{"offset":0.8333,"color":"rgba(255,255,255,0.5)"},
                {"offset":0.8333,"color":"rgba(255,68,68,0.5)"},{"offset":0.9167,"color":"rgba(255,68,68,0.5)"},{"offset":0.9167,"color":"rgba(255,255,255,0.5)"},{"offset":1,"color":"rgba(255,255,255,0.5)"}]}}},
              {"transform": [{"filter": "datum.group == 'HFDA'"}], "mark": {"type": "bar", "fill": {"gradient": "linear", "x1": 0, "y1": 1, "x2": 1, "y2": -0.8, "stops": [
                {"offset":0,"color":"#1c1"},{"offset":0.025,"color":"#1c1"},{"offset":0.025,"color":"#fff"},{"offset":0.05,"color":"#fff"},
                {"offset":0.05,"color":"#1c1"},{"offset":0.075,"color":"#1c1"},{"offset":0.075,"color":"#fff"},{"offset":0.1,"color":"#fff"},
                {"offset":0.1,"color":"#1c1"},{"offset":0.125,"color":"#1c1"},{"offset":0.125,"color":"#fff"},{"offset":0.15,"color":"#fff"},
                {"offset":0.15,"color":"#1c1"},{"offset":0.175,"color":"#1c1"},{"offset":0.175,"color":"#fff"},{"offset":0.2,"color":"#fff"},
                {"offset":0.2,"color":"#1c1"},{"offset":0.225,"color":"#1c1"},{"offset":0.225,"color":"#fff"},{"offset":0.25,"color":"#fff"},
                {"offset":0.25,"color":"#1c1"},{"offset":0.275,"color":"#1c1"},{"offset":0.275,"color":"#fff"},{"offset":0.3,"color":"#fff"},
                {"offset":0.3,"color":"#1c1"},{"offset":0.325,"color":"#1c1"},{"offset":0.325,"color":"#fff"},{"offset":0.35,"color":"#fff"},
                {"offset":0.35,"color":"#1c1"},{"offset":0.375,"color":"#1c1"},{"offset":0.375,"color":"#fff"},{"offset":0.4,"color":"#fff"},
                {"offset":0.4,"color":"#1c1"},{"offset":0.425,"color":"#1c1"},{"offset":0.425,"color":"#fff"},{"offset":0.45,"color":"#fff"},
                {"offset":0.45,"color":"#1c1"},{"offset":0.475,"color":"#1c1"},{"offset":0.475,"color":"#fff"},{"offset":0.5,"color":"#fff"},
                {"offset":0.5,"color":"#1c1"},{"offset":0.525,"color":"#1c1"},{"offset":0.525,"color":"#fff"},{"offset":0.55,"color":"#fff"},
                {"offset":0.55,"color":"#1c1"},{"offset":0.575,"color":"#1c1"},{"offset":0.575,"color":"#fff"},{"offset":0.6,"color":"#fff"},
                {"offset":0.6,"color":"#1c1"},{"offset":0.625,"color":"#1c1"},{"offset":0.625,"color":"#fff"},{"offset":0.65,"color":"#fff"},
                {"offset":0.65,"color":"#1c1"},{"offset":0.675,"color":"#1c1"},{"offset":0.675,"color":"#fff"},{"offset":0.7,"color":"#fff"},
                {"offset":0.7,"color":"#1c1"},{"offset":1,"color":"#1c1"}]}}},
              {"transform": [{"filter": "datum.group == 'HFDB'"}], "mark": {"type": "bar", "fill": {"gradient": "linear", "x1": 0, "y1": 0, "x2": 0, "y2": 1, "stops": [
                {"offset":0,"color":"#14148c"},{"offset":0.045,"color":"#14148c"},{"offset":0.045,"color":"#dcdcf0"},{"offset":0.0625,"color":"#dcdcf0"},
                {"offset":0.0625,"color":"#14148c"},{"offset":0.1075,"color":"#14148c"},{"offset":0.1075,"color":"#dcdcf0"},{"offset":0.125,"color":"#dcdcf0"},
                {"offset":0.125,"color":"#14148c"},{"offset":0.17,"color":"#14148c"},{"offset":0.17,"color":"#dcdcf0"},{"offset":0.1875,"color":"#dcdcf0"},
                {"offset":0.1875,"color":"#14148c"},{"offset":0.2325,"color":"#14148c"},{"offset":0.2325,"color":"#dcdcf0"},{"offset":0.25,"color":"#dcdcf0"},
                {"offset":0.25,"color":"#14148c"},{"offset":0.295,"color":"#14148c"},{"offset":0.295,"color":"#dcdcf0"},{"offset":0.3125,"color":"#dcdcf0"},
                {"offset":0.3125,"color":"#14148c"},{"offset":0.3575,"color":"#14148c"},{"offset":0.3575,"color":"#dcdcf0"},{"offset":0.375,"color":"#dcdcf0"},
                {"offset":0.375,"color":"#14148c"},{"offset":0.42,"color":"#14148c"},{"offset":0.42,"color":"#dcdcf0"},{"offset":0.4375,"color":"#dcdcf0"},
                {"offset":0.4375,"color":"#14148c"},{"offset":0.4825,"color":"#14148c"},{"offset":0.4825,"color":"#dcdcf0"},{"offset":0.5,"color":"#dcdcf0"},
                {"offset":0.5,"color":"#14148c"},{"offset":0.545,"color":"#14148c"},{"offset":0.545,"color":"#dcdcf0"},{"offset":0.5625,"color":"#dcdcf0"},
                {"offset":0.5625,"color":"#14148c"},{"offset":0.6075,"color":"#14148c"},{"offset":0.6075,"color":"#dcdcf0"},{"offset":0.625,"color":"#dcdcf0"},
                {"offset":0.625,"color":"#14148c"},{"offset":0.67,"color":"#14148c"},{"offset":0.67,"color":"#dcdcf0"},{"offset":0.6875,"color":"#dcdcf0"},
                {"offset":0.6875,"color":"#14148c"},{"offset":0.7325,"color":"#14148c"},{"offset":0.7325,"color":"#dcdcf0"},{"offset":0.75,"color":"#dcdcf0"},
                {"offset":0.75,"color":"#14148c"},{"offset":0.795,"color":"#14148c"},{"offset":0.795,"color":"#dcdcf0"},{"offset":0.8125,"color":"#dcdcf0"},
                {"offset":0.8125,"color":"#14148c"},{"offset":0.8575,"color":"#14148c"},{"offset":0.8575,"color":"#dcdcf0"},{"offset":0.875,"color":"#dcdcf0"},
                {"offset":0.875,"color":"#14148c"},{"offset":0.92,"color":"#14148c"},{"offset":0.92,"color":"#dcdcf0"},{"offset":0.9375,"color":"#dcdcf0"},
                {"offset":0.9375,"color":"#14148c"},{"offset":1,"color":"#14148c"}]}}},
              {"transform": [{"filter": "datum.group == 'HFDB'"}], "mark": {"type": "bar", "fill": {"gradient": "linear", "x1": 0, "y1": 0, "x2": 1, "y2": 0, "stops": [
                {"offset":0,"color":"rgba(255,255,255,0)"},{"offset":0.085,"color":"rgba(255,255,255,0)"},{"offset":0.085,"color":"rgba(230,230,250,0.45)"},{"offset":0.115,"color":"rgba(230,230,250,0.45)"},{"offset":0.115,"color":"rgba(255,255,255,0)"},
                {"offset":0.285,"color":"rgba(255,255,255,0)"},{"offset":0.285,"color":"rgba(230,230,250,0.45)"},{"offset":0.315,"color":"rgba(230,230,250,0.45)"},{"offset":0.315,"color":"rgba(255,255,255,0)"},
                {"offset":0.485,"color":"rgba(255,255,255,0)"},{"offset":0.485,"color":"rgba(230,230,250,0.45)"},{"offset":0.515,"color":"rgba(230,230,250,0.45)"},{"offset":0.515,"color":"rgba(255,255,255,0)"},
                {"offset":0.685,"color":"rgba(255,255,255,0)"},{"offset":0.685,"color":"rgba(230,230,250,0.45)"},{"offset":0.715,"color":"rgba(230,230,250,0.45)"},{"offset":0.715,"color":"rgba(255,255,255,0)"},
                {"offset":0.885,"color":"rgba(255,255,255,0)"},{"offset":0.885,"color":"rgba(230,230,250,0.45)"},{"offset":0.915,"color":"rgba(230,230,250,0.45)"},{"offset":0.915,"color":"rgba(255,255,255,0)"},{"offset":1,"color":"rgba(255,255,255,0)"}]}}},
              {"mark": {"type": "bar", "fillOpacity": 0, "strokeWidth": 3}, "encoding": {"stroke": {"field": "group", "type": "nominal", "scale": {"domain": ["NC", "HFD", "HFDA", "HFDB"], "range": ["#000000", "#ff4040", "#14c014", "#10108c"]}, "legend": null}}}
             ]},
            {"data": {"name": "segC"}, "mark": {"type": "rule", "color": "#222222", "strokeWidth": 1},
             "encoding": {"x": {"field": "x1", "type": "quantitative", "scale": {"domain": [0, 4], "nice": false, "zero": false}, "axis": null}, "x2": {"field": "x2"},
                          "y": {"field": "y1", "type": "quantitative", "title": "Hepatic cholesterol (mg/g tissue)", "axis": {"values": [0, 0.5, 1, 1.5, 2], "format": ".1f", "titleFont": "Liberation Sans", "titleFontSize": 14.5, "titlePadding": 5.5}}, "y2": {"field": "y2"}}},
            {"data": {"name": "tickC"}, "mark": {"type": "tick", "orient": "vertical", "size": 9, "thickness": 1, "color": "#222222"},
             "encoding": {"x": {"field": "x", "type": "quantitative", "scale": {"domain": [0, 4], "nice": false, "zero": false}, "axis": null},
                          "y": {"field": "y", "type": "quantitative", "title": "Hepatic cholesterol (mg/g tissue)", "axis": {"values": [0, 0.5, 1, 1.5, 2], "format": ".1f", "titleFont": "Liberation Sans", "titleFontSize": 14.5, "titlePadding": 5.5}}}},
            {"data": {"name": "starsC"}, "mark": {"type": "text", "font": "DejaVu Sans", "fontSize": 18, "baseline": "middle", "color": "#222222"},
             "encoding": {"x": {"field": "x", "type": "quantitative", "scale": {"domain": [0, 4], "nice": false, "zero": false}, "axis": null},
                          "y": {"field": "y", "type": "quantitative", "title": "Hepatic cholesterol (mg/g tissue)", "axis": {"values": [0, 0.5, 1, 1.5, 2], "format": ".1f", "titleFont": "Liberation Sans", "titleFontSize": 14.5, "titlePadding": 5.5}}, "text": {"field": "label"}}}
          ]
        },
        {
          "title": {"text": "D", "offset": 15.5, "dx": -4},
          "width": 298, "height": 198,
          "resolve": {"scale": {"x": "independent"}},
          "layer": [
            {"data": {"name": "barsD"},
             "encoding": {"x": {"field": "group", "type": "nominal", "sort": ["NC", "HFD", "HFDA", "HFDB"], "scale": {"paddingInner": 0.29, "paddingOuter": 0.177, "align": 0.46}, "axis": {"title": null}},
                          "y": {"field": "value", "type": "quantitative", "scale": {"domain": [0, 40], "nice": false}, "title": "Fecal lipid (mg/g feces)", "axis": {"values": [0, 10, 20, 30, 40], "titleFont": "Liberation Sans", "titleFontSize": 15.3}}},
             "layer": [
              {"mark": {"type": "rule", "strokeWidth": 2.5}, "encoding": {"y2": {"field": "upper"}, "color": {"field": "group", "type": "nominal", "scale": {"domain": ["NC", "HFD", "HFDA", "HFDB"], "range": ["#000000", "#ff4040", "#14c014", "#1a1ad0"]}, "legend": null}}},
              {"mark": {"type": "tick", "thickness": 2.5, "size": 20}, "encoding": {"y": {"field": "upper", "type": "quantitative", "title": "Fecal lipid (mg/g feces)", "axis": {"values": [0, 10, 20, 30, 40], "titleFont": "Liberation Sans", "titleFontSize": 15.3}}, "color": {"field": "group", "type": "nominal", "legend": null}}},
              {"mark": {"type": "bar"}, "encoding": {"fill": {"field": "group", "type": "nominal", "scale": {"domain": ["NC", "HFD", "HFDA", "HFDB"], "range": ["#000000", "#ffa6a6", "#88e088", "#7272e6"]}, "legend": null}}},
              {"transform": [{"filter": "datum.group == 'HFD'"}], "mark": {"type": "bar", "fill": {"gradient": "linear", "x1": 0, "y1": 0, "x2": 0, "y2": 1, "stops": [
                {"offset":0,"color":"#f44"},{"offset":0.1,"color":"#f44"},{"offset":0.1,"color":"#fff"},{"offset":0.2,"color":"#fff"},
                {"offset":0.2,"color":"#f44"},{"offset":0.3,"color":"#f44"},{"offset":0.3,"color":"#fff"},{"offset":0.4,"color":"#fff"},
                {"offset":0.4,"color":"#f44"},{"offset":0.5,"color":"#f44"},{"offset":0.5,"color":"#fff"},{"offset":0.6,"color":"#fff"},
                {"offset":0.6,"color":"#f44"},{"offset":0.7,"color":"#f44"},{"offset":0.7,"color":"#fff"},{"offset":0.8,"color":"#fff"},
                {"offset":0.8,"color":"#f44"},{"offset":0.9,"color":"#f44"},{"offset":0.9,"color":"#fff"},{"offset":1,"color":"#fff"}]}}},
              {"transform": [{"filter": "datum.group == 'HFD'"}], "mark": {"type": "bar", "fill": {"gradient": "linear", "x1": 0, "y1": 0, "x2": 1, "y2": 0, "stops": [
                {"offset":0,"color":"rgba(255,68,68,0.5)"},{"offset":0.0833,"color":"rgba(255,68,68,0.5)"},{"offset":0.0833,"color":"rgba(255,255,255,0.5)"},{"offset":0.1667,"color":"rgba(255,255,255,0.5)"},
                {"offset":0.1667,"color":"rgba(255,68,68,0.5)"},{"offset":0.25,"color":"rgba(255,68,68,0.5)"},{"offset":0.25,"color":"rgba(255,255,255,0.5)"},{"offset":0.3333,"color":"rgba(255,255,255,0.5)"},
                {"offset":0.3333,"color":"rgba(255,68,68,0.5)"},{"offset":0.4167,"color":"rgba(255,68,68,0.5)"},{"offset":0.4167,"color":"rgba(255,255,255,0.5)"},{"offset":0.5,"color":"rgba(255,255,255,0.5)"},
                {"offset":0.5,"color":"rgba(255,68,68,0.5)"},{"offset":0.5833,"color":"rgba(255,68,68,0.5)"},{"offset":0.5833,"color":"rgba(255,255,255,0.5)"},{"offset":0.6667,"color":"rgba(255,255,255,0.5)"},
                {"offset":0.6667,"color":"rgba(255,68,68,0.5)"},{"offset":0.75,"color":"rgba(255,68,68,0.5)"},{"offset":0.75,"color":"rgba(255,255,255,0.5)"},{"offset":0.8333,"color":"rgba(255,255,255,0.5)"},
                {"offset":0.8333,"color":"rgba(255,68,68,0.5)"},{"offset":0.9167,"color":"rgba(255,68,68,0.5)"},{"offset":0.9167,"color":"rgba(255,255,255,0.5)"},{"offset":1,"color":"rgba(255,255,255,0.5)"}]}}},
              {"transform": [{"filter": "datum.group == 'HFDA'"}], "mark": {"type": "bar", "fill": {"gradient": "linear", "x1": 0, "y1": 1, "x2": 1, "y2": -0.8, "stops": [
                {"offset":0,"color":"#1c1"},{"offset":0.025,"color":"#1c1"},{"offset":0.025,"color":"#fff"},{"offset":0.05,"color":"#fff"},
                {"offset":0.05,"color":"#1c1"},{"offset":0.075,"color":"#1c1"},{"offset":0.075,"color":"#fff"},{"offset":0.1,"color":"#fff"},
                {"offset":0.1,"color":"#1c1"},{"offset":0.125,"color":"#1c1"},{"offset":0.125,"color":"#fff"},{"offset":0.15,"color":"#fff"},
                {"offset":0.15,"color":"#1c1"},{"offset":0.175,"color":"#1c1"},{"offset":0.175,"color":"#fff"},{"offset":0.2,"color":"#fff"},
                {"offset":0.2,"color":"#1c1"},{"offset":0.225,"color":"#1c1"},{"offset":0.225,"color":"#fff"},{"offset":0.25,"color":"#fff"},
                {"offset":0.25,"color":"#1c1"},{"offset":0.275,"color":"#1c1"},{"offset":0.275,"color":"#fff"},{"offset":0.3,"color":"#fff"},
                {"offset":0.3,"color":"#1c1"},{"offset":0.325,"color":"#1c1"},{"offset":0.325,"color":"#fff"},{"offset":0.35,"color":"#fff"},
                {"offset":0.35,"color":"#1c1"},{"offset":0.375,"color":"#1c1"},{"offset":0.375,"color":"#fff"},{"offset":0.4,"color":"#fff"},
                {"offset":0.4,"color":"#1c1"},{"offset":0.425,"color":"#1c1"},{"offset":0.425,"color":"#fff"},{"offset":0.45,"color":"#fff"},
                {"offset":0.45,"color":"#1c1"},{"offset":0.475,"color":"#1c1"},{"offset":0.475,"color":"#fff"},{"offset":0.5,"color":"#fff"},
                {"offset":0.5,"color":"#1c1"},{"offset":0.525,"color":"#1c1"},{"offset":0.525,"color":"#fff"},{"offset":0.55,"color":"#fff"},
                {"offset":0.55,"color":"#1c1"},{"offset":0.575,"color":"#1c1"},{"offset":0.575,"color":"#fff"},{"offset":0.6,"color":"#fff"},
                {"offset":0.6,"color":"#1c1"},{"offset":0.625,"color":"#1c1"},{"offset":0.625,"color":"#fff"},{"offset":0.65,"color":"#fff"},
                {"offset":0.65,"color":"#1c1"},{"offset":0.675,"color":"#1c1"},{"offset":0.675,"color":"#fff"},{"offset":0.7,"color":"#fff"},
                {"offset":0.7,"color":"#1c1"},{"offset":1,"color":"#1c1"}]}}},
              {"transform": [{"filter": "datum.group == 'HFDB'"}], "mark": {"type": "bar", "fill": {"gradient": "linear", "x1": 0, "y1": 0, "x2": 0, "y2": 1, "stops": [
                {"offset":0,"color":"#1a1ad0"},{"offset":0.025,"color":"#1a1ad0"},{"offset":0.025,"color":"#e4e4fa"},{"offset":0.0333,"color":"#e4e4fa"},
                {"offset":0.0333,"color":"#1a1ad0"},{"offset":0.0583,"color":"#1a1ad0"},{"offset":0.0583,"color":"#e4e4fa"},{"offset":0.0667,"color":"#e4e4fa"},
                {"offset":0.0667,"color":"#1a1ad0"},{"offset":0.0917,"color":"#1a1ad0"},{"offset":0.0917,"color":"#e4e4fa"},{"offset":0.1,"color":"#e4e4fa"},
                {"offset":0.1,"color":"#1a1ad0"},{"offset":0.125,"color":"#1a1ad0"},{"offset":0.125,"color":"#e4e4fa"},{"offset":0.1333,"color":"#e4e4fa"},
                {"offset":0.1333,"color":"#1a1ad0"},{"offset":0.1583,"color":"#1a1ad0"},{"offset":0.1583,"color":"#e4e4fa"},{"offset":0.1667,"color":"#e4e4fa"},
                {"offset":0.1667,"color":"#1a1ad0"},{"offset":0.1917,"color":"#1a1ad0"},{"offset":0.1917,"color":"#e4e4fa"},{"offset":0.2,"color":"#e4e4fa"},
                {"offset":0.2,"color":"#1a1ad0"},{"offset":0.225,"color":"#1a1ad0"},{"offset":0.225,"color":"#e4e4fa"},{"offset":0.2333,"color":"#e4e4fa"},
                {"offset":0.2333,"color":"#1a1ad0"},{"offset":0.2583,"color":"#1a1ad0"},{"offset":0.2583,"color":"#e4e4fa"},{"offset":0.2667,"color":"#e4e4fa"},
                {"offset":0.2667,"color":"#1a1ad0"},{"offset":0.2917,"color":"#1a1ad0"},{"offset":0.2917,"color":"#e4e4fa"},{"offset":0.3,"color":"#e4e4fa"},
                {"offset":0.3,"color":"#1a1ad0"},{"offset":0.325,"color":"#1a1ad0"},{"offset":0.325,"color":"#e4e4fa"},{"offset":0.3333,"color":"#e4e4fa"},
                {"offset":0.3333,"color":"#1a1ad0"},{"offset":0.3583,"color":"#1a1ad0"},{"offset":0.3583,"color":"#e4e4fa"},{"offset":0.3667,"color":"#e4e4fa"},
                {"offset":0.3667,"color":"#1a1ad0"},{"offset":0.3917,"color":"#1a1ad0"},{"offset":0.3917,"color":"#e4e4fa"},{"offset":0.4,"color":"#e4e4fa"},
                {"offset":0.4,"color":"#1a1ad0"},{"offset":0.425,"color":"#1a1ad0"},{"offset":0.425,"color":"#e4e4fa"},{"offset":0.4333,"color":"#e4e4fa"},
                {"offset":0.4333,"color":"#1a1ad0"},{"offset":0.4583,"color":"#1a1ad0"},{"offset":0.4583,"color":"#e4e4fa"},{"offset":0.4667,"color":"#e4e4fa"},
                {"offset":0.4667,"color":"#1a1ad0"},{"offset":0.4917,"color":"#1a1ad0"},{"offset":0.4917,"color":"#e4e4fa"},{"offset":0.5,"color":"#e4e4fa"},
                {"offset":0.5,"color":"#1a1ad0"},{"offset":0.525,"color":"#1a1ad0"},{"offset":0.525,"color":"#e4e4fa"},{"offset":0.5333,"color":"#e4e4fa"},
                {"offset":0.5333,"color":"#1a1ad0"},{"offset":0.5583,"color":"#1a1ad0"},{"offset":0.5583,"color":"#e4e4fa"},{"offset":0.5667,"color":"#e4e4fa"},
                {"offset":0.5667,"color":"#1a1ad0"},{"offset":0.5917,"color":"#1a1ad0"},{"offset":0.5917,"color":"#e4e4fa"},{"offset":0.6,"color":"#e4e4fa"},
                {"offset":0.6,"color":"#1a1ad0"},{"offset":0.625,"color":"#1a1ad0"},{"offset":0.625,"color":"#e4e4fa"},{"offset":0.6333,"color":"#e4e4fa"},
                {"offset":0.6333,"color":"#1a1ad0"},{"offset":0.6583,"color":"#1a1ad0"},{"offset":0.6583,"color":"#e4e4fa"},{"offset":0.6667,"color":"#e4e4fa"},
                {"offset":0.6667,"color":"#1a1ad0"},{"offset":0.6917,"color":"#1a1ad0"},{"offset":0.6917,"color":"#e4e4fa"},{"offset":0.7,"color":"#e4e4fa"},
                {"offset":0.7,"color":"#1a1ad0"},{"offset":0.725,"color":"#1a1ad0"},{"offset":0.725,"color":"#e4e4fa"},{"offset":0.7333,"color":"#e4e4fa"},
                {"offset":0.7333,"color":"#1a1ad0"},{"offset":0.7583,"color":"#1a1ad0"},{"offset":0.7583,"color":"#e4e4fa"},{"offset":0.7667,"color":"#e4e4fa"},
                {"offset":0.7667,"color":"#1a1ad0"},{"offset":0.7917,"color":"#1a1ad0"},{"offset":0.7917,"color":"#e4e4fa"},{"offset":0.8,"color":"#e4e4fa"},
                {"offset":0.8,"color":"#1a1ad0"},{"offset":0.825,"color":"#1a1ad0"},{"offset":0.825,"color":"#e4e4fa"},{"offset":0.8333,"color":"#e4e4fa"},
                {"offset":0.8333,"color":"#1a1ad0"},{"offset":0.8583,"color":"#1a1ad0"},{"offset":0.8583,"color":"#e4e4fa"},{"offset":0.8667,"color":"#e4e4fa"},
                {"offset":0.8667,"color":"#1a1ad0"},{"offset":0.8917,"color":"#1a1ad0"},{"offset":0.8917,"color":"#e4e4fa"},{"offset":0.9,"color":"#e4e4fa"},
                {"offset":0.9,"color":"#1a1ad0"},{"offset":0.925,"color":"#1a1ad0"},{"offset":0.925,"color":"#e4e4fa"},{"offset":0.9333,"color":"#e4e4fa"},
                {"offset":0.9333,"color":"#1a1ad0"},{"offset":0.9583,"color":"#1a1ad0"},{"offset":0.9583,"color":"#e4e4fa"},{"offset":0.9667,"color":"#e4e4fa"},
                {"offset":0.9667,"color":"#1a1ad0"},{"offset":1,"color":"#1a1ad0"}]}}},
              {"transform": [{"filter": "datum.group == 'HFDB'"}], "mark": {"type": "bar", "fill": {"gradient": "linear", "x1": 0, "y1": 0, "x2": 1, "y2": 0, "stops": [
                {"offset":0,"color":"rgba(255,255,255,0)"},{"offset":0.07,"color":"rgba(255,255,255,0)"},{"offset":0.07,"color":"rgba(235,235,255,0.6)"},{"offset":0.1,"color":"rgba(235,235,255,0.6)"},{"offset":0.1,"color":"rgba(255,255,255,0)"},
                {"offset":0.15,"color":"rgba(255,255,255,0)"},{"offset":0.15,"color":"rgba(235,235,255,0.6)"},{"offset":0.18,"color":"rgba(235,235,255,0.6)"},{"offset":0.18,"color":"rgba(255,255,255,0)"},
                {"offset":0.23,"color":"rgba(255,255,255,0)"},{"offset":0.23,"color":"rgba(235,235,255,0.6)"},{"offset":0.26,"color":"rgba(235,235,255,0.6)"},{"offset":0.26,"color":"rgba(255,255,255,0)"},
                {"offset":0.31,"color":"rgba(255,255,255,0)"},{"offset":0.31,"color":"rgba(235,235,255,0.6)"},{"offset":0.34,"color":"rgba(235,235,255,0.6)"},{"offset":0.34,"color":"rgba(255,255,255,0)"},
                {"offset":0.39,"color":"rgba(255,255,255,0)"},{"offset":0.39,"color":"rgba(235,235,255,0.6)"},{"offset":0.42,"color":"rgba(235,235,255,0.6)"},{"offset":0.42,"color":"rgba(255,255,255,0)"},
                {"offset":0.47,"color":"rgba(255,255,255,0)"},{"offset":0.47,"color":"rgba(235,235,255,0.6)"},{"offset":0.5,"color":"rgba(235,235,255,0.6)"},{"offset":0.5,"color":"rgba(255,255,255,0)"},
                {"offset":0.55,"color":"rgba(255,255,255,0)"},{"offset":0.55,"color":"rgba(235,235,255,0.6)"},{"offset":0.58,"color":"rgba(235,235,255,0.6)"},{"offset":0.58,"color":"rgba(255,255,255,0)"},
                {"offset":0.63,"color":"rgba(255,255,255,0)"},{"offset":0.63,"color":"rgba(235,235,255,0.6)"},{"offset":0.66,"color":"rgba(235,235,255,0.6)"},{"offset":0.66,"color":"rgba(255,255,255,0)"},
                {"offset":0.71,"color":"rgba(255,255,255,0)"},{"offset":0.71,"color":"rgba(235,235,255,0.6)"},{"offset":0.74,"color":"rgba(235,235,255,0.6)"},{"offset":0.74,"color":"rgba(255,255,255,0)"},
                {"offset":0.79,"color":"rgba(255,255,255,0)"},{"offset":0.79,"color":"rgba(235,235,255,0.6)"},{"offset":0.82,"color":"rgba(235,235,255,0.6)"},{"offset":0.82,"color":"rgba(255,255,255,0)"},
                {"offset":0.87,"color":"rgba(255,255,255,0)"},{"offset":0.87,"color":"rgba(235,235,255,0.6)"},{"offset":0.9,"color":"rgba(235,235,255,0.6)"},{"offset":0.9,"color":"rgba(255,255,255,0)"},{"offset":1,"color":"rgba(255,255,255,0)"}]}}},
              {"mark": {"type": "bar", "fillOpacity": 0, "strokeWidth": 3}, "encoding": {"stroke": {"field": "group", "type": "nominal", "scale": {"domain": ["NC", "HFD", "HFDA", "HFDB"], "range": ["#000000", "#ff4040", "#14c014", "#1a1ad0"]}, "legend": null}}}
             ]},
            {"data": {"name": "segD"}, "mark": {"type": "rule", "color": "#555555", "strokeWidth": 1},
             "encoding": {"x": {"field": "x1", "type": "quantitative", "scale": {"domain": [0, 4], "nice": false, "zero": false}, "axis": null}, "x2": {"field": "x2"},
                          "y": {"field": "y1", "type": "quantitative", "title": "Fecal lipid (mg/g feces)", "axis": {"values": [0, 10, 20, 30, 40], "titleFont": "Liberation Sans", "titleFontSize": 15.3}}, "y2": {"field": "y2"}}},
            {"data": {"name": "starsD"}, "mark": {"type": "text", "font": "DejaVu Sans", "fontSize": 18, "baseline": "middle", "color": "#222222"},
             "encoding": {"x": {"field": "x", "type": "quantitative", "scale": {"domain": [0, 4], "nice": false, "zero": false}, "axis": null},
                          "y": {"field": "y", "type": "quantitative", "title": "Fecal lipid (mg/g feces)", "axis": {"values": [0, 10, 20, 30, 40], "titleFont": "Liberation Sans", "titleFontSize": 15.3}}, "text": {"field": "label"}}}
          ]
        }
      ],
      "spacing": 124
    }
  ],
  "spacing": 49.5
}
